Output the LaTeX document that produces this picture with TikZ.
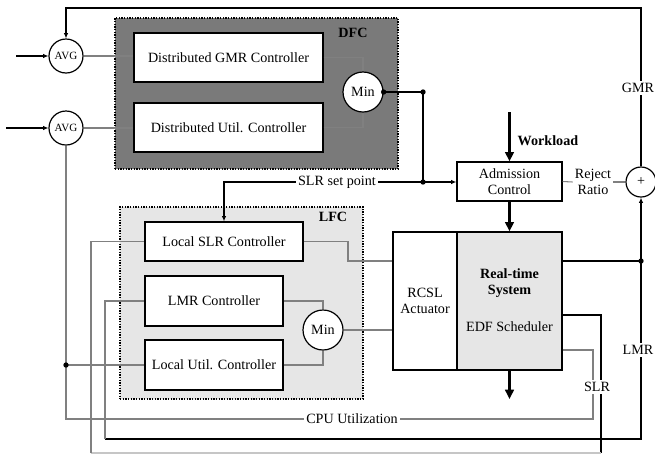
\documentclass[tikz,border=0pt]{standalone}
\usepackage{fontspec}
\setmainfont{Liberation Serif}
\usetikzlibrary{arrows.meta}
\definecolor{darkfill}{RGB}{122,122,122}
\definecolor{lightfill}{RGB}{230,230,230}
\definecolor{linegray}{RGB}{128,128,128}
\begin{document}
\begin{tikzpicture}
  [x=0.75pt,y=-0.75pt,
  font=\fontsize{10.6}{12.4}\selectfont,
  block/.style={draw,line width=1pt,fill=white,inner sep=0pt,align=center},
  op/.style={draw,line width=0.9pt,fill=white,circle,inner sep=0pt,minimum size=30pt},
  avg/.style={op,minimum size=25.5pt,font=\fontsize{8.3}{10}\selectfont},
  group/.style={draw,dash pattern=on 1pt off 1pt,line width=0.8pt,inner sep=0pt},
  sig/.style={draw,line width=0.8pt},
  fb/.style={draw=linegray,line width=0.8pt},
  thin arrow/.style={-{Latex[length=4pt,width=3.5pt]}},
  flow/.style={line width=1.8pt,-{Triangle[length=7pt,width=6.5pt]}},
  dot/.style={circle,fill,inner sep=0pt,minimum size=4pt},
  tag/.style={fill=white,inner sep=1.5pt,align=center}]
  \useasboundingbox (0,0) rectangle (655,454);
  \node[group,fill=darkfill,minimum width=212.25pt,minimum height=113.25pt] (dfc) at (256.5,93.5) {};
  \node (dfctag) at (353,33) {\textbf{DFC}};
  \node[group,fill=lightfill,minimum width=182.25pt,minimum height=144pt] (lfc) at (241.5,303) {};
  \node (lfctag) at (333,217) {\textbf{LFC}};
  \node[block,minimum width=141.75pt,minimum height=36.75pt] (gmr) at (228.5,57.5) {Distributed GMR Controller};
  \node[block,minimum width=141.75pt,minimum height=36.75pt] (dutil) at (228.5,127.5) {Distributed Util. Controller};
  \node[op] (mind) at (363,92) {Min};
  \node[avg] (avga) at (66,56) {AVG};
  \node[avg] (avgb) at (66,128) {AVG};
  \node[block,minimum width=118.5pt,minimum height=29.25pt] (lslr) at (224,241.5) {Local SLR Controller};
  \node[block,minimum width=103.5pt,minimum height=37.5pt] (lmr) at (214,301) {LMR Controller};
  \node[block,minimum width=103.5pt,minimum height=37.5pt] (lutil) at (214,365) {Local Util. Controller};
  \node[op] (minl) at (323,330) {Min};
  \node[block,minimum width=48pt,minimum height=103.5pt] (rcsl) at (425,301) {RCSL\\Actuator};
  \node[block,fill=lightfill,minimum width=78.75pt,minimum height=103.5pt] (rts) at (509.5,301) {};
  \node[align=center] (rtsname) at (509.5,283) {\textbf{Real-time}\\\textbf{System}};
  \node (edf) at (509.5,327) {EDF Scheduler};
  \node[block,minimum width=78.75pt,minimum height=29.25pt] (ac) at (509.5,181.5) {Admission\\Control};
  \node[op,minimum size=22.5pt] (plus) at (641,182) {+};
  \node[tag] (slrsp) at (337,182) {SLR set point};
  \node[tag] (reject) at (593,182) {Reject\\Ratio};
  \node[anchor=west] (wltag) at (513,141) {\textbf{Workload}};
  \coordinate (ina) at (16,56);
  \coordinate (inb) at (6,128);
  \coordinate (wl) at (509.5,112);
  \coordinate (out) at (509.5,399);
  \coordinate (top) at (641,8);
  \coordinate (ja) at (423,92);
  \coordinate (jb) at (423,182);
  \coordinate (jc) at (641,261);
  \coordinate (jd) at (66,365);
  \coordinate (lmra) at (641,439);
  \coordinate (lmrb) at (105,439);
  \coordinate (slra) at (601,315);
  \coordinate (slrb) at (601,453);
  \coordinate (slrc) at (91,453);
  \coordinate (cpua) at (593,350);
  \coordinate (cpub) at (593,419);
  \coordinate (rca) at (348,261);
  \draw[sig,thin arrow] (ina) -- (avga.west);
  \draw[sig,thin arrow] (inb) -- (avgb.west);
  \draw[fb] (avga.east) -- (avga.east -| gmr.west);
  \draw[fb] (avgb.east) -- (avgb.east -| dutil.west);
  \draw[fb] (gmr.east) -| (mind.north);
  \draw[fb] (dutil.east) -| (mind.south);
  \draw[sig] (mind.east) -- (ja) -- (jb);
  \draw[sig,thin arrow] (jb) -- (jb -| ac.west);
  \draw[sig] (jb) -- (slrsp.east);
  \draw[sig,thin arrow] (slrsp.west) -| (lslr.north);
  \draw[flow] (wl) -- (ac.north);
  \draw[flow] (ac.south) -- (rts.north);
  \draw[flow] (rts.south) -- (out);
  \draw[fb] (ac.east) -- (reject.west);
  \draw[fb] (reject.east) -- (plus.west);
  \draw[sig,thin arrow] (plus.north) -- (top) -| (avga.north);
  \draw[sig] (rts.east |- jc) -- (jc);
  \draw[sig,thin arrow] (jc) -- (plus.south);
  \draw[sig] (jc) -- (lmra) -- (lmrb);
  \draw[fb] (lmrb) |- (lmr.west);
  \draw[sig] (rts.east |- slra) -- (slra) -- (slrb);
  \draw[linegray!45,line width=0.8pt] (slrb) -- (slrc);
  \draw[fb] (slrc) |- (lslr.west);
  \draw[fb] (rts.east |- cpua) -- (cpua) -- (cpub) -| (avgb.south);
  \draw[fb] (jd) -- (jd -| lutil.west);
  \draw[fb] (lslr.east) -| (rca) -- (rca -| rcsl.west);
  \draw[fb] (lmr.east) -| (minl.north);
  \draw[fb] (lutil.east) -| (minl.south);
  \draw[fb] (minl.east) -- (minl.east -| rcsl.west);
  \node[tag] (gmrtag) at (638,88) {GMR};
  \node[tag] (lmrtag) at (638,350) {LMR};
  \node[tag] (slrtag) at (597,387) {SLR};
  \node[tag] (cputag) at (352,419) {CPU Utilization};
  \node[dot] (dota) at (mind.east) {};
  \node[dot] (dotb) at (ja) {};
  \node[dot] (dotc) at (jb) {};
  \node[dot] (dotd) at (jc) {};
  \node[dot] (dote) at (jd) {};
\end{tikzpicture}
\end{document}
